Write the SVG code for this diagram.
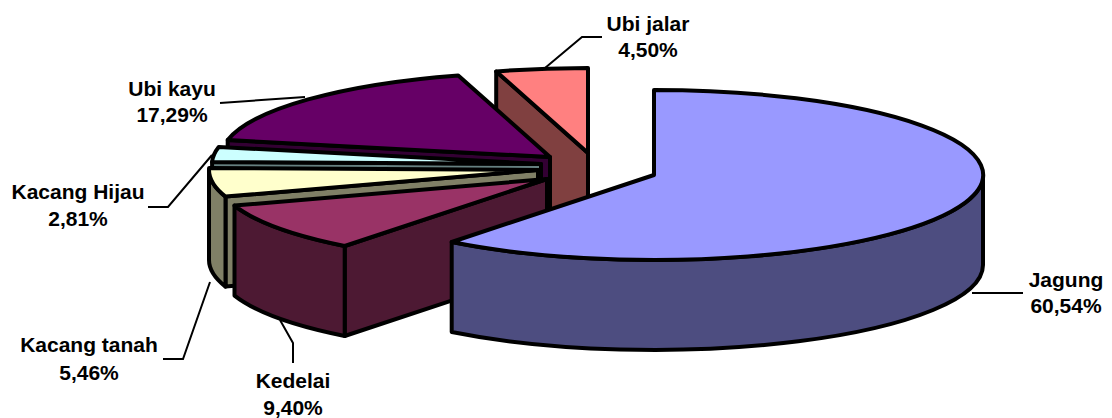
<svg xmlns="http://www.w3.org/2000/svg" width="1112" height="418" viewBox="0 0 1112 418">
<style>
.s{stroke:#000;stroke-width:4;stroke-linejoin:round}
.lbl{font-family:"Liberation Sans",Arial,sans-serif;font-weight:bold;font-size:21px;fill:#000;text-anchor:middle}
.ld{fill:none;stroke:#000;stroke-width:2}
</style>
<rect width="1112" height="418" fill="#fff"/>
<g id="slice-ubi-jalar">
<path class="s" fill="#804040" d="M496.2,71.4 L588,153 L588,243 L496.2,161.4 Z"/>
<path class="s" fill="#FF8080" d="M588,153 L496.2,71.4 A329,85 0 0,1 588,68 Z"/>
</g>
<g id="slice-ubi-kayu">
<path class="s" fill="#330033" d="M550,157 L227.7,140 L227.7,230 L550,247 Z"/>
<path class="s" fill="#660066" d="M550,157 L227.7,140 A329,85 0 0,1 458.2,75.4 Z"/>
</g>
<g id="slice-kacang-hijau">
<path class="s" fill="#668080" d="M541,164 L212.1,161.9 L212.1,251.9 L541,254 Z"/>
<path class="s" fill="#CCFFFF" d="M541,164 L212.1,161.9 A329,85 0 0,1 218.7,147 Z"/>
</g>
<g id="slice-kacang-tanah">
<path class="s" fill="#808066" d="M538,170 L225.5,196.6 L225.5,286.6 L538,260 Z"/>
<path class="s" fill="#808066" d="M225.5,196.6 A329,85 0 0,1 209,170 L209,260 A329,85 0 0,0 225.5,286.6 Z"/>
<path class="s" fill="#FFFFCC" d="M538,170 L225.5,196.6 A329,85 0 0,1 209.1,167.9 Z"/>
</g>
<g id="slice-kedelai">
<path class="s" fill="#4D1933" d="M547,179 L344.7,246 L344.7,336 L547,269 Z"/>
<path class="s" fill="#4D1933" d="M344.7,246 A329,85 0 0,1 234.5,205.6 L234.5,295.6 A329,85 0 0,0 344.7,336 Z"/>
<path class="s" fill="#993366" d="M547,179 L344.7,246 A329,85 0 0,1 234.5,205.6 Z"/>
</g>
<g id="slice-jagung">
<path class="s" fill="#4D4D80" d="M983,175 A329,85 0 0,1 451.7,242 L451.7,332 A329,85 0 0,0 983,265 Z"/>
<path class="s" fill="#9999FF" d="M654,175 L654,90 A329,85 0 1,1 451.7,242 Z"/>
</g>
<g id="connectors">
<polyline class="ld" points="545,68 582,37 602,37"/>
<polyline class="ld" points="220,103 305,97"/>
<polyline class="ld" points="148,207 168,207 212,155"/>
<polyline class="ld" points="163,359 183,359 210,282"/>
<polyline class="ld" points="293,363 293,343 280,320"/>
<polyline class="ld" points="972,293 1023,293"/>
</g>
<g id="label-ubi-jalar"><text class="lbl" x="648" y="31">Ubi jalar</text><text class="lbl" x="648" y="57">4,50%</text></g>
<g id="label-ubi-kayu"><text class="lbl" x="172" y="96">Ubi kayu</text><text class="lbl" x="172" y="122">17,29%</text></g>
<g id="label-kacang-hijau"><text class="lbl" x="78" y="199">Kacang Hijau</text><text class="lbl" x="78" y="226">2,81%</text></g>
<g id="label-kacang-tanah"><text class="lbl" x="89" y="352">Kacang tanah</text><text class="lbl" x="89" y="380">5,46%</text></g>
<g id="label-kedelai"><text class="lbl" x="293" y="388">Kedelai</text><text class="lbl" x="293" y="415">9,40%</text></g>
<g id="label-jagung"><text class="lbl" x="1066" y="287">Jagung</text><text class="lbl" x="1066" y="313">60,54%</text></g>
</svg>
